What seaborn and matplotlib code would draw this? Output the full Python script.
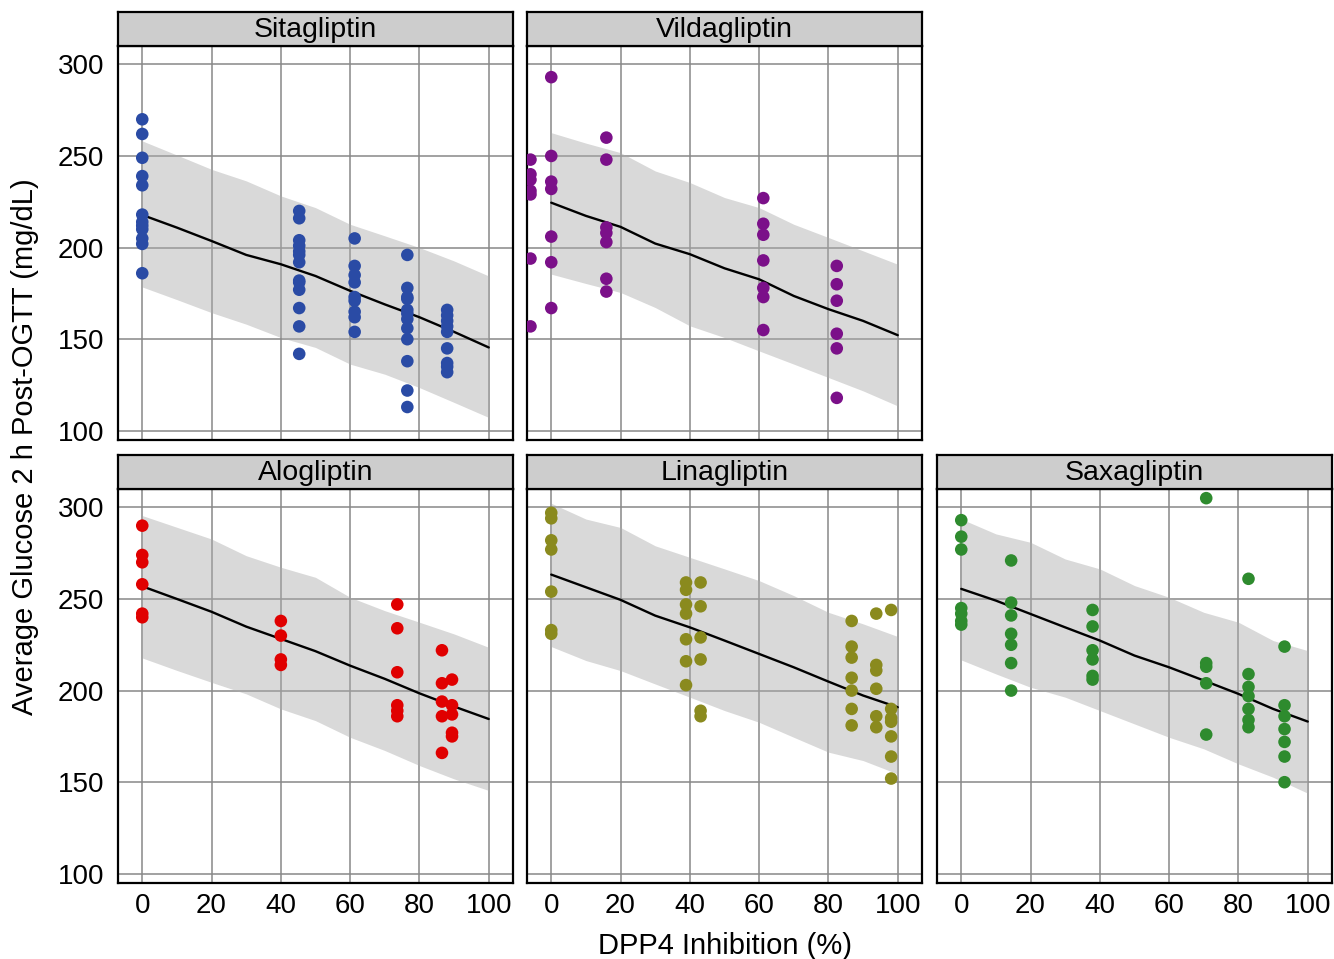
"""Five-panel facet: average 2 h post-OGTT glucose vs DPP4 inhibition per gliptin."""
import numpy as np
import pandas as pd
import matplotlib
matplotlib.use("Agg")
import matplotlib.pyplot as plt
import seaborn as sns

# ---- observed data: dose-group inhibition (%) and glucose values (mg/dL) ----
SITA_DOSE = [0, 45.3, 61.3, 76.5, 88.0]
SITA_GLU = [
    [270, 262, 249, 239, 234, 218, 214, 212, 210, 205, 202, 186],
    [220, 216, 204, 201, 198, 196, 192, 182, 181, 177, 167, 157, 142],
    [205, 190, 185, 181, 173, 171, 165, 162, 154],
    [196, 178, 173, 172, 166, 164, 161, 156, 150, 138, 122, 113],
    [166, 163, 160, 157, 154, 145, 137, 135, 132],
]
VILDA_DOSE = [-6.0, 0, 15.9, 61.2, 82.4]
VILDA_GLU = [
    [248, 240, 237, 231, 229, 194, 157],
    [293, 250, 236, 232, 206, 192, 167],
    [260, 248, 211, 208, 203, 183, 176],
    [227, 213, 207, 193, 178, 173, 155],
    [190, 180, 171, 153, 145, 118],
]
ALO_DOSE = [0, 40.0, 73.6, 86.5, 89.4]
ALO_GLU = [
    [290, 274, 270, 258, 242, 240],
    [238, 230, 217, 214],
    [247, 234, 210, 192, 189, 186],
    [222, 204, 194, 186, 166],
    [206, 192, 187, 177, 175],
]
LINA_DOSE = [0, 38.9, 43.1, 86.7, 93.8, 98.1]
LINA_GLU = [
    [297, 294, 282, 277, 254, 233, 231],
    [259, 255, 247, 242, 228, 216, 203],
    [259, 246, 229, 217, 189, 186],
    [238, 224, 218, 207, 200, 190, 181],
    [242, 214, 211, 201, 186, 180],
    [244, 190, 185, 183, 175, 164, 152],
]
SAXA_DOSE = [0, 14.4, 37.9, 70.7, 82.9, 93.3]
SAXA_GLU = [
    [293, 284, 277, 245, 242, 238, 236],
    [271, 248, 241, 231, 225, 215, 200],
    [244, 235, 222, 217, 208, 206],
    [305, 215, 213, 204, 176],
    [261, 209, 202, 197, 190, 184, 180],
    [224, 192, 186, 179, 172, 164, 150],
]

# ---- model prediction (median) and prediction interval ----
FIT_X = [0, 10, 20, 30, 40, 50, 60, 70, 80, 90, 100]
SITA_FIT = [217.8, 210.9, 203.6, 196.0, 190.9, 184.5, 176.4, 169.0, 162.0, 154.0, 145.5]
SITA_HI = [258.2, 250.5, 242.7, 236.4, 228.2, 221.8, 212.7, 206.4, 200.0, 192.7, 184.5]
SITA_LO = [178.5, 171.6, 164.5, 158.2, 150.9, 145.5, 136.4, 130.9, 123.6, 115.5, 107.3]
VILDA_FIT = [224.5, 217.3, 211.3, 202.2, 196.4, 188.7, 182.7, 173.6, 166.4, 160.0, 152.2]
VILDA_HI = [262.7, 257.0, 251.8, 241.8, 235.5, 227.3, 221.8, 212.7, 205.5, 198.2, 190.9]
VILDA_LO = [185.5, 180.4, 175.5, 167.3, 157.3, 150.9, 143.6, 136.4, 129.1, 121.8, 113.6]
ALO_FIT = [256.9, 250.0, 243.0, 234.9, 228.2, 221.5, 213.6, 206.4, 198.5, 191.3, 184.5]
ALO_HI = [295.5, 289.1, 282.7, 273.6, 267.3, 261.8, 250.9, 243.6, 237.3, 230.9, 223.6]
ALO_LO = [217.8, 211.0, 204.5, 198.2, 190.0, 183.6, 174.5, 167.3, 159.1, 151.8, 145.5]
LINA_FIT = [263.3, 256.4, 249.5, 240.9, 234.5, 227.3, 220.0, 212.7, 204.9, 197.3, 190.9]
LINA_HI = [302.2, 293.6, 289.0, 279.0, 272.7, 266.4, 260.0, 251.8, 242.7, 236.4, 229.5]
LINA_LO = [224.0, 216.4, 210.9, 203.6, 196.4, 189.1, 182.7, 174.5, 166.4, 161.8, 154.5]
SAXA_FIT = [255.5, 249.1, 241.8, 234.5, 227.3, 219.1, 212.7, 205.5, 198.2, 190.0, 183.1]
SAXA_HI = [293.6, 285.5, 280.9, 271.8, 266.4, 257.3, 250.9, 242.7, 237.3, 227.3, 221.8]
SAXA_LO = [216.7, 209.1, 201.8, 196.4, 189.1, 181.8, 174.5, 168.2, 160.0, 152.7, 144.0]

DRUGS = ["Sitagliptin", "Vildagliptin", "Alogliptin", "Linagliptin", "Saxagliptin"]
COLORS = ["#2A4BA5", "#7B1089", "#E00000", "#8A8A1E", "#2E8B2E"]
X_TICKS = [0, 20, 40, 60, 80, 100]
Y_TICKS = [100, 150, 200, 250, 300]


def long_points(drug, doses, glus):
    rows = [(drug, d, g) for d, grp in zip(doses, glus) for g in grp]
    return pd.DataFrame(rows, columns=["drug", "inhib", "glucose"])


def draw_panel(fig, rect, drug, color, pts, fit, lo, hi, show_x, show_y):
    left, bottom, width, height = rect
    ax = fig.add_axes(rect)
    ax.set_axisbelow(True)
    ax.grid(True, color="#888888", linewidth=1.1)
    ax.fill_between(FIT_X, lo, hi, color="#ABABAB", alpha=0.45, linewidth=0, zorder=1)
    sns.lineplot(x=FIT_X, y=fit, color="black", linewidth=1.7, ax=ax, zorder=2)
    sns.scatterplot(data=pts, x="inhib", y="glucose", color=color, s=82,
                    edgecolor="none", ax=ax, zorder=3)
    ax.set_xlim(-7, 107)
    ax.set_ylim(95, 310)
    ax.set_xticks(X_TICKS)
    ax.set_yticks(Y_TICKS)
    ax.set_xlabel("")
    ax.set_ylabel("")
    ax.tick_params(length=0, labelsize=20, colors="black")
    ax.tick_params(axis="x", pad=7)
    ax.tick_params(axis="y", pad=10)
    if not show_x:
        ax.set_xticklabels([])
    if not show_y:
        ax.set_yticklabels([])
    for sp in ax.spines.values():
        sp.set_visible(True)
        sp.set_color("black")
        sp.set_linewidth(1.6)

    # facet strip
    sh = 34 / 959
    sax = fig.add_axes([left, bottom + height, width, sh])
    sax.set_facecolor("#CDCDCD")
    sax.set_xticks([])
    sax.set_yticks([])
    for sp in sax.spines.values():
        sp.set_color("black")
        sp.set_linewidth(1.6)
    sax.text(0.5, 0.47, drug, transform=sax.transAxes, ha="center", va="center",
             fontsize=20.5, color="black")
    return ax


def main():
    sns.set_style("white")
    plt.rcParams["font.family"] = ["Liberation Sans", "DejaVu Sans"]
    plt.rcParams.update({"text.color": "black", "axes.labelcolor": "black",
                         "xtick.color": "black", "ytick.color": "black"})

    points = {
        "Sitagliptin": long_points("Sitagliptin", SITA_DOSE, SITA_GLU),
        "Vildagliptin": long_points("Vildagliptin", VILDA_DOSE, VILDA_GLU),
        "Alogliptin": long_points("Alogliptin", ALO_DOSE, ALO_GLU),
        "Linagliptin": long_points("Linagliptin", LINA_DOSE, LINA_GLU),
        "Saxagliptin": long_points("Saxagliptin", SAXA_DOSE, SAXA_GLU),
    }
    curves = {
        "Sitagliptin": (SITA_FIT, SITA_LO, SITA_HI),
        "Vildagliptin": (VILDA_FIT, VILDA_LO, VILDA_HI),
        "Alogliptin": (ALO_FIT, ALO_LO, ALO_HI),
        "Linagliptin": (LINA_FIT, LINA_LO, LINA_HI),
        "Saxagliptin": (SAXA_FIT, SAXA_LO, SAXA_HI),
    }

    W, H = 1334, 959
    fig = plt.figure(figsize=(W / 100, H / 100), dpi=100)
    lefts = [118 / W, 527 / W, 937 / W]
    pw = 395 / W
    ph = 394 / H
    top_b = 1 - 440 / H
    bot_b = 1 - 883 / H

    # (drug, column, row, show x labels, show y labels)
    layout = [
        ("Sitagliptin", 0, top_b, False, True),
        ("Vildagliptin", 1, top_b, False, False),
        ("Alogliptin", 0, bot_b, True, True),
        ("Linagliptin", 1, bot_b, True, False),
        ("Saxagliptin", 2, bot_b, True, False),
    ]
    for drug, col, b, sx, sy in layout:
        fit, lo, hi = curves[drug]
        draw_panel(fig, [lefts[col], b, pw, ph], drug, COLORS[DRUGS.index(drug)],
                   points[drug], fit, lo, hi, sx, sy)

    fig.text(725 / W, 1 - 946 / H, "DPP4 Inhibition (%)", ha="center", va="center",
             fontsize=21, color="black")
    fig.text(25 / W, 1 - 447 / H, "Average Glucose 2 h Post-OGTT (mg/dL)",
             ha="center", va="center", rotation=90, fontsize=21, color="black")

    fig.savefig("out.png", dpi=100)
    plt.close(fig)


if __name__ == "__main__":
    main()
